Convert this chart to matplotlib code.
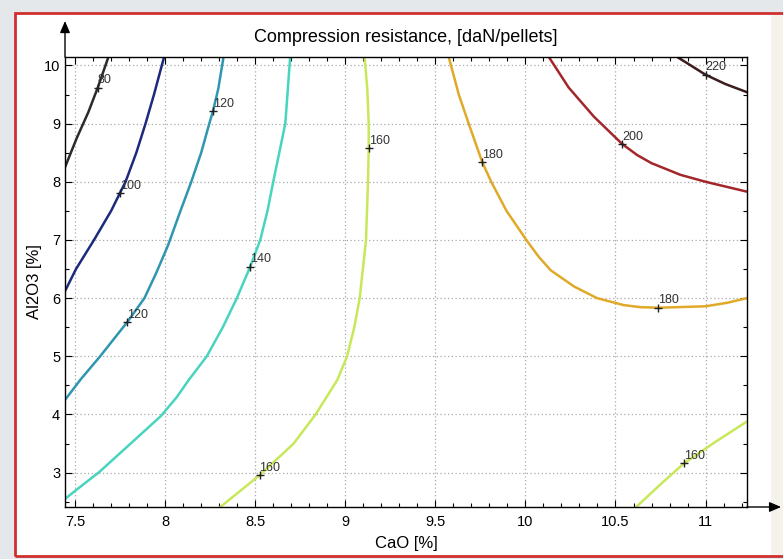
import numpy as np
import matplotlib
matplotlib.use("Agg")
import matplotlib.pyplot as plt
from matplotlib.patches import Rectangle
from matplotlib.ticker import MultipleLocator

plt.rcParams['font.family'] = ['Liberation Sans', 'DejaVu Sans']

# contour lines: CaO [%] vs Al2O3 [%]
cao_80 = [7.444, 7.509, 7.574, 7.626, 7.685]
al_80 = [8.25, 8.75, 9.2, 9.62, 10.145]

cao_100 = [7.444, 7.505, 7.605, 7.70, 7.748, 7.78, 7.84, 7.891, 7.938, 7.994]
al_100 = [6.12, 6.5, 7.0, 7.5, 7.8, 8.0, 8.5, 9.0, 9.5, 10.145]

cao_120 = [7.444, 7.53, 7.639, 7.79, 7.885, 7.95, 8.015, 8.085, 8.145, 8.20, 8.245, 8.265, 8.295, 8.324]
al_120 = [4.25, 4.6, 5.0, 5.59, 6.0, 6.43, 6.9, 7.5, 8.0, 8.5, 9.0, 9.21, 9.6, 10.145]

cao_140 = [7.444, 7.60, 7.63, 7.787, 7.975, 8.065, 8.13, 8.231, 8.32, 8.398, 8.472, 8.528, 8.568, 8.60, 8.667, 8.694]
al_140 = [2.55, 2.93, 3.0, 3.44, 3.97, 4.3, 4.59, 5.0, 5.5, 6.0, 6.54, 7.0, 7.5, 8.0, 9.0, 10.145]

cao_160a = [8.306, 8.524, 8.713, 8.835, 8.955, 9.01, 9.05, 9.08, 9.115, 9.126, 9.13, 9.13, 9.122, 9.107]
al_160a = [2.41, 2.955, 3.5, 4.0, 4.59, 5.0, 5.5, 6.0, 7.0, 8.0, 8.58, 9.0, 9.6, 10.145]

cao_160b = [10.615, 10.75, 10.88, 11.05, 11.23]
al_160b = [2.41, 2.8, 3.16, 3.52, 3.88]

cao_180 = [9.574, 9.63, 9.685, 9.76, 9.81, 9.895, 10.005, 10.074, 10.14, 10.27, 10.398, 10.546,
           10.64, 10.737, 11.0, 11.12, 11.23]
al_180 = [10.145, 9.5, 9.0, 8.34, 8.0, 7.5, 7.0, 6.71, 6.48, 6.2, 6.0, 5.88,
          5.845, 5.835, 5.86, 5.92, 6.0]

cao_200 = [10.13, 10.24, 10.38, 10.537, 10.62, 10.70, 10.86, 11.0, 11.23]
al_200 = [10.145, 9.62, 9.12, 8.65, 8.46, 8.32, 8.12, 8.0, 7.83]

cao_220 = [10.843, 11.0, 11.11, 11.23]
al_220 = [10.145, 9.84, 9.68, 9.54]

# inline contour labels
label_text = ['80', '100', '120', '120', '140', '160', '160', '160', '180', '180', '200', '220']
label_cao = [7.626, 7.748, 8.265, 7.79, 8.472, 9.13, 8.524, 10.88, 9.76, 10.737, 10.537, 11.0]
label_al = [9.62, 7.80, 9.21, 5.59, 6.54, 8.58, 2.955, 3.16, 8.34, 5.835, 8.65, 9.84]

lines = [
    (cao_80, al_80, '#2b2b2b'),
    (cao_100, al_100, '#1c2a7e'),
    (cao_120, al_120, '#2f96b2'),
    (cao_140, al_140, '#48d4bf'),
    (cao_160a, al_160a, '#c8e85a'),
    (cao_160b, al_160b, '#c8e85a'),
    (cao_180, al_180, '#e0aa28'),
    (cao_200, al_200, '#a3262a'),
    (cao_220, al_220, '#3c1c1c'),
]

fig = plt.figure(figsize=(7.83, 5.59), dpi=100, facecolor='#e4e8ea')

# framed background
fig.add_artist(Rectangle((15 / 783, 3 / 559), 1.0, 543 / 559, transform=fig.transFigure,
                         facecolor='white', edgecolor='none', zorder=-3))
fig.add_artist(Rectangle((771 / 783, 3 / 559), 1.0, 543 / 559, transform=fig.transFigure,
                         facecolor='#f5f2ec', edgecolor='none', zorder=-2))
fig.add_artist(Rectangle((15 / 783, 3 / 559), 1.0, 543 / 559, transform=fig.transFigure,
                         facecolor='none', edgecolor='#cf2f2f', lw=2, zorder=-1))

ax = fig.add_axes([65 / 783, 52 / 559, 682 / 783, 450 / 559])

for x, y, c in lines:
    ax.plot(x, y, color=c, lw=1.8, solid_capstyle='round', solid_joinstyle='round')

ax.plot(label_cao, label_al, '+', color='#202020', ms=6, mew=1)
for t, x, y in zip(label_text, label_cao, label_al):
    ax.annotate(t, (x, y), xytext=(0, 1), textcoords='offset points',
                ha='left', va='bottom', fontsize=9, color='#333333')

ax.set_xlim(7.444, 11.23)
ax.set_ylim(2.41, 10.145)
ax.xaxis.set_major_locator(MultipleLocator(0.5))
ax.xaxis.set_minor_locator(MultipleLocator(0.1))
ax.yaxis.set_major_locator(MultipleLocator(1))
ax.yaxis.set_minor_locator(MultipleLocator(0.5))
ax.xaxis.set_major_formatter(plt.FuncFormatter(lambda v, p: f'{v:g}'))
ax.tick_params(which='both', direction='in', top=True, right=True, labelsize=10.5)
ax.tick_params(which='major', length=5, width=0.8)
ax.tick_params(which='minor', length=3, width=0.8)
ax.tick_params(axis='x', pad=6)
ax.grid(True, which='major', color='#a8a8a8', linestyle=(0, (1, 2)), lw=0.9)
for s in ax.spines.values():
    s.set_linewidth(1)

ax.set_title('Compression resistance, [daN/pellets]', fontsize=13, pad=11)
ax.set_xlabel('CaO [%]', fontsize=12, labelpad=5)
ax.set_ylabel('Al2O3 [%]', fontsize=12, labelpad=1)

# axis arrows
arrow = dict(arrowstyle='-|>,head_length=0.7,head_width=0.3', color='black', lw=1,
             shrinkA=0, shrinkB=0)
ax.annotate('', xy=(0, 1.08), xytext=(0, 1), xycoords='axes fraction', arrowprops=arrow)
ax.annotate('', xy=(1.05, 0), xytext=(1, 0), xycoords='axes fraction', arrowprops=arrow)

fig.savefig('out.png', dpi=100, facecolor=fig.get_facecolor())
